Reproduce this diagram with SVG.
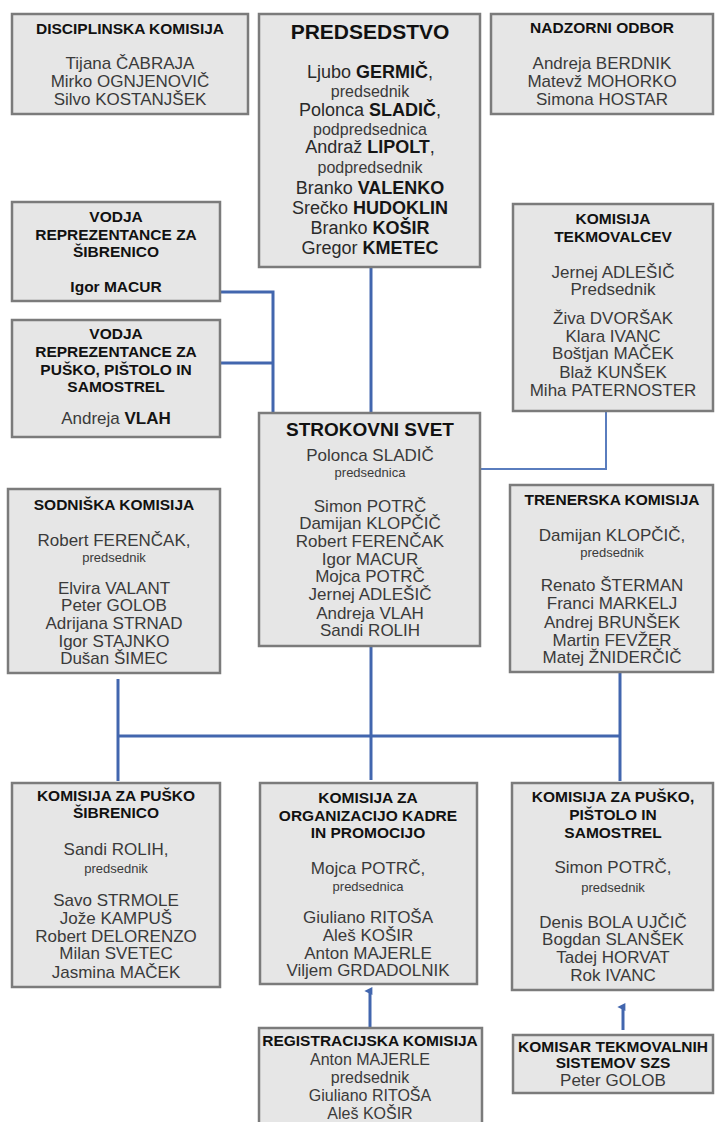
<svg xmlns="http://www.w3.org/2000/svg" width="716" height="1122" viewBox="0 0 716 1122">
<style>
.box{fill:#e6e6e6;stroke:#7b7b7b;stroke-width:2.5}
text{font-family:"Liberation Sans",Arial,sans-serif;text-anchor:middle}
.t{font-size:15.5px;font-weight:bold;fill:#111}
.tb{font-size:20px;font-weight:bold;fill:#111}
.n{font-size:17px;fill:#3a3a3a}
.nb{font-size:18px;fill:#2a2a2a}
.s{font-size:13px;fill:#3a3a3a}
.sp{font-size:16px;fill:#3a3a3a}
.b{font-weight:bold;fill:#151515}
.c{stroke:#4266ae;stroke-width:3;fill:none}
.ct{stroke:#5a7dbe;stroke-width:2;fill:none}
</style>
<defs>
<marker id="ah" viewBox="0 0 10 10" refX="5" refY="7" markerWidth="8" markerHeight="9" markerUnits="userSpaceOnUse" orient="auto-start-reverse">
<path d="M0,10 L5,0 L10,10 Z" fill="#4266ae"/>
</marker>
</defs>
<g id="connectors">
<line class="c" x1="371" y1="267" x2="371" y2="413"/>
<polyline class="c" points="220,292 273,292 273,413"/>
<line class="c" x1="220" y1="363" x2="273" y2="363"/>
<polyline class="ct" points="606,411 606,469 480,469"/>
<line class="c" x1="118" y1="736" x2="620" y2="736"/>
<line class="c" x1="118" y1="679" x2="118" y2="781"/>
<line class="c" x1="371" y1="647" x2="371" y2="780"/>
<line class="c" x1="620" y1="673" x2="620" y2="781"/>
<line class="c" x1="370" y1="1027" x2="370" y2="991" marker-end="url(#ah)"/>
<line class="c" x1="623" y1="1030" x2="623" y2="1007" marker-end="url(#ah)"/>
</g>
<g id="disciplinska">
<rect class="box" x="12" y="14" width="236" height="100"/>
<text class="t" x="130" y="34">DISCIPLINSKA KOMISIJA</text>
<text class="n" x="130" y="69">Tijana  ČABRAJA</text>
<text class="n" x="130" y="87">Mirko OGNJENOVIČ</text>
<text class="n" x="130" y="105">Silvo KOSTANJŠEK</text>
</g>
<g id="predsedstvo">
<rect class="box" x="259" y="14" width="221" height="253"/>
<text class="tb" x="370" y="39" style="font-size:21px">PREDSEDSTVO</text>
<text class="nb" x="370" y="78">Ljubo <tspan class="b">GERMIČ</tspan>,</text>
<text class="sp" x="370" y="97">predsednik</text>
<text class="nb" x="370" y="116">Polonca <tspan class="b">SLADIČ</tspan>,</text>
<text class="sp" x="370" y="135">podpredsednica</text>
<text class="nb" x="370" y="153">Andraž <tspan class="b">LIPOLT</tspan>,</text>
<text class="sp" x="370" y="173">podpredsednik</text>
<text class="nb" x="370" y="194">Branko <tspan class="b">VALENKO</tspan></text>
<text class="nb" x="370" y="214">Srečko <tspan class="b">HUDOKLIN</tspan></text>
<text class="nb" x="370" y="234">Branko <tspan class="b">KOŠIR</tspan></text>
<text class="nb" x="370" y="254">Gregor <tspan class="b">KMETEC</tspan></text>
</g>
<g id="nadzorni">
<rect class="box" x="491" y="14" width="222" height="100"/>
<text class="t" x="602" y="33">NADZORNI ODBOR</text>
<text class="n" x="602" y="69">Andreja BERDNIK</text>
<text class="n" x="602" y="87">Matevž MOHORKO</text>
<text class="n" x="602" y="105">Simona HOSTAR</text>
</g>
<g id="vodja-sibrenica">
<rect class="box" x="12" y="202" width="208" height="99"/>
<text class="t" x="116" y="222">VODJA</text>
<text class="t" x="116" y="240">REPREZENTANCE ZA</text>
<text class="t" x="116" y="257">ŠIBRENICO</text>
<text class="t" x="116" y="292">Igor MACUR</text>
</g>
<g id="vodja-pusko">
<rect class="box" x="12" y="320" width="208" height="117"/>
<text class="t" x="116" y="339">VODJA</text>
<text class="t" x="116" y="357">REPREZENTANCE ZA</text>
<text class="t" x="116" y="375">PUŠKO, PIŠTOLO IN</text>
<text class="t" x="116" y="392">SAMOSTREL</text>
<text class="n" x="116" y="424">Andreja <tspan class="b">VLAH</tspan></text>
</g>
<g id="tekmovalcev">
<rect class="box" x="513" y="204" width="200" height="207"/>
<text class="t" x="613" y="224">KOMISIJA</text>
<text class="t" x="613" y="242">TEKMOVALCEV</text>
<text class="n" x="613" y="278">Jernej ADLEŠIČ</text>
<text class="n" x="613" y="295">Predsednik</text>
<text class="n" x="613" y="324">Živa DVORŠAK</text>
<text class="n" x="613" y="342">Klara IVANC</text>
<text class="n" x="613" y="359">Boštjan MAČEK</text>
<text class="n" x="613" y="378">Blaž KUNŠEK</text>
<text class="n" x="613" y="396">Miha PATERNOSTER</text>
</g>
<g id="strokovni">
<rect class="box" x="259" y="413" width="221" height="233"/>
<text class="tb" x="370" y="436" style="font-size:19px">STROKOVNI SVET</text>
<text class="n" x="370" y="461">Polonca SLADIČ</text>
<text class="s" x="370" y="477">predsednica</text>
<text class="n" x="370" y="512">Simon POTRČ</text>
<text class="n" x="370" y="529">Damijan KLOPČIČ</text>
<text class="n" x="370" y="547">Robert FERENČAK</text>
<text class="n" x="370" y="565">Igor MACUR</text>
<text class="n" x="370" y="582">Mojca POTRČ</text>
<text class="n" x="370" y="600">Jernej ADLEŠIČ</text>
<text class="n" x="370" y="619">Andreja VLAH</text>
<text class="n" x="370" y="636">Sandi ROLIH</text>
</g>
<g id="sodniska">
<rect class="box" x="8" y="489" width="212" height="184"/>
<text class="t" x="114" y="510">SODNIŠKA KOMISIJA</text>
<text class="n" x="114" y="546">Robert FERENČAK,</text>
<text class="s" x="114" y="562">predsednik</text>
<text class="n" x="114" y="594">Elvira VALANT</text>
<text class="n" x="114" y="611">Peter GOLOB</text>
<text class="n" x="114" y="629">Adrijana STRNAD</text>
<text class="n" x="114" y="647">Igor STAJNKO</text>
<text class="n" x="114" y="664">Dušan ŠIMEC</text>
</g>
<g id="trenerska">
<rect class="box" x="510" y="485" width="203" height="187"/>
<text class="t" x="612" y="505">TRENERSKA KOMISIJA</text>
<text class="n" x="612" y="541">Damijan KLOPČIČ,</text>
<text class="s" x="612" y="557">predsednik</text>
<text class="n" x="612" y="591">Renato ŠTERMAN</text>
<text class="n" x="612" y="609">Franci MARKELJ</text>
<text class="n" x="612" y="628">Andrej BRUNŠEK</text>
<text class="n" x="612" y="646">Martin FEVŽER</text>
<text class="n" x="612" y="663">Matej ŽNIDERČIČ</text>
</g>
<g id="pusko-sibrenico">
<rect class="box" x="12" y="783" width="208" height="204"/>
<text class="t" x="116" y="801">KOMISIJA ZA PUŠKO</text>
<text class="t" x="116" y="818">ŠIBRENICO</text>
<text class="n" x="116" y="855">Sandi ROLIH,</text>
<text class="s" x="116" y="873">predsednik</text>
<text class="n" x="116" y="906">Savo STRMOLE</text>
<text class="n" x="116" y="924">Jože KAMPUŠ</text>
<text class="n" x="116" y="942">Robert DELORENZO</text>
<text class="n" x="116" y="959">Milan SVETEC</text>
<text class="n" x="116" y="978">Jasmina MAČEK</text>
</g>
<g id="organizacijo">
<rect class="box" x="260" y="783" width="217" height="201"/>
<text class="t" x="368" y="803">KOMISIJA ZA</text>
<text class="t" x="368" y="821">ORGANIZACIJO KADRE</text>
<text class="t" x="368" y="838">IN PROMOCIJO</text>
<text class="n" x="368" y="874">Mojca POTRČ,</text>
<text class="s" x="368" y="891">predsednica</text>
<text class="n" x="368" y="923">Giuliano RITOŠA</text>
<text class="n" x="368" y="941">Aleš KOŠIR</text>
<text class="n" x="368" y="959">Anton MAJERLE</text>
<text class="n" x="368" y="976">Viljem GRDADOLNIK</text>
</g>
<g id="pusko-pistolo">
<rect class="box" x="512" y="783" width="201" height="207"/>
<text class="t" x="613" y="802">KOMISIJA ZA PUŠKO,</text>
<text class="t" x="613" y="820">PIŠTOLO IN</text>
<text class="t" x="613" y="838">SAMOSTREL</text>
<text class="n" x="613" y="873">Simon POTRČ,</text>
<text class="s" x="613" y="892">predsednik</text>
<text class="n" x="613" y="928">Denis BOLA UJČIČ</text>
<text class="n" x="613" y="945">Bogdan SLANŠEK</text>
<text class="n" x="613" y="963">Tadej HORVAT</text>
<text class="n" x="613" y="981">Rok IVANC</text>
</g>
<g id="registracijska">
<rect class="box" x="259" y="1028" width="223" height="100"/>
<text class="t" x="370" y="1046">REGISTRACIJSKA KOMISIJA</text>
<text class="n" x="370" y="1065" style="font-size:16px">Anton MAJERLE</text>
<text class="n" x="370" y="1083" style="font-size:16px">predsednik</text>
<text class="n" x="370" y="1101" style="font-size:16px">Giuliano RITOŠA</text>
<text class="n" x="370" y="1119" style="font-size:16px">Aleš KOŠIR</text>
</g>
<g id="komisar">
<rect class="box" x="513" y="1035" width="200" height="58"/>
<text class="t" x="613" y="1052">KOMISAR TEKMOVALNIH</text>
<text class="t" x="613" y="1068">SISTEMOV SZS</text>
<text class="n" x="613" y="1086">Peter GOLOB</text>
</g>
</svg>
